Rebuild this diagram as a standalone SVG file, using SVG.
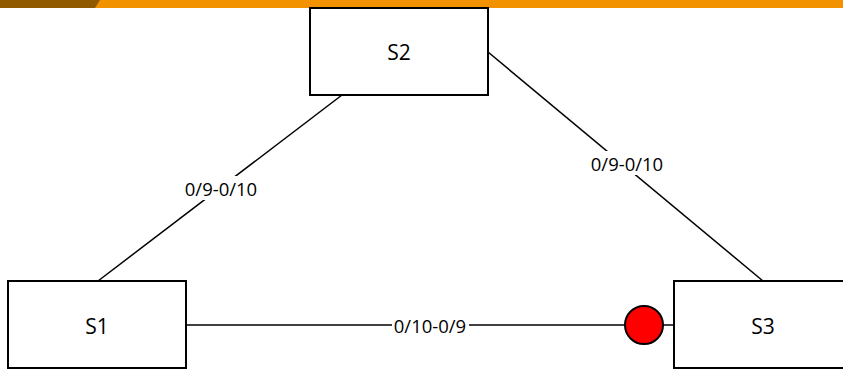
<svg xmlns="http://www.w3.org/2000/svg" width="843" height="369" viewBox="0 0 843 369">
<style>
.box{fill:#fff;stroke:#000;stroke-width:2}
.ln{stroke:#000;stroke-width:1.5;fill:none}
.nt{font-family:"Open Sans","Liberation Sans",sans-serif;font-size:21px;text-anchor:middle;dominant-baseline:central;fill:#000}
.lt{font-family:"Open Sans","Liberation Sans",sans-serif;font-size:18.5px;text-anchor:middle;dominant-baseline:central;fill:#000}
.lb{fill:#fff}
</style>
<rect width="843" height="369" fill="#fff"/>
<g id="header">
<rect x="0" y="0" width="843" height="8" fill="#F39200"/>
<polygon points="0,0 100,0 95,8 0,8" fill="#8F5A00"/>
</g>
<g id="connectors">
<line class="ln" x1="98" y1="281" x2="342" y2="95"/>
<line class="ln" x1="488" y1="52" x2="763" y2="281"/>
<line class="ln" x1="186" y1="325" x2="674" y2="325"/>
<rect class="lb" x="183" y="176" width="76" height="24"/>
<text class="lt" x="221" y="188">0/9-0/10</text>
<rect class="lb" x="589" y="151" width="76" height="24"/>
<text class="lt" x="627" y="163">0/9-0/10</text>
<rect class="lb" x="392" y="313" width="77" height="24"/>
<text class="lt" x="430" y="325">0/10-0/9</text>
<circle cx="644" cy="325" r="19" fill="#FF0000" stroke="#000" stroke-width="2"/>
</g>
<g id="S2">
<rect class="box" x="310" y="8" width="178" height="87"/>
<text class="nt" x="399" y="52">S2</text>
</g>
<g id="S1">
<rect class="box" x="8" y="281" width="178" height="87"/>
<text class="nt" x="97" y="326">S1</text>
</g>
<g id="S3">
<rect class="box" x="674" y="281" width="178" height="87"/>
<text class="nt" x="763" y="326">S3</text>
</g>
</svg>
